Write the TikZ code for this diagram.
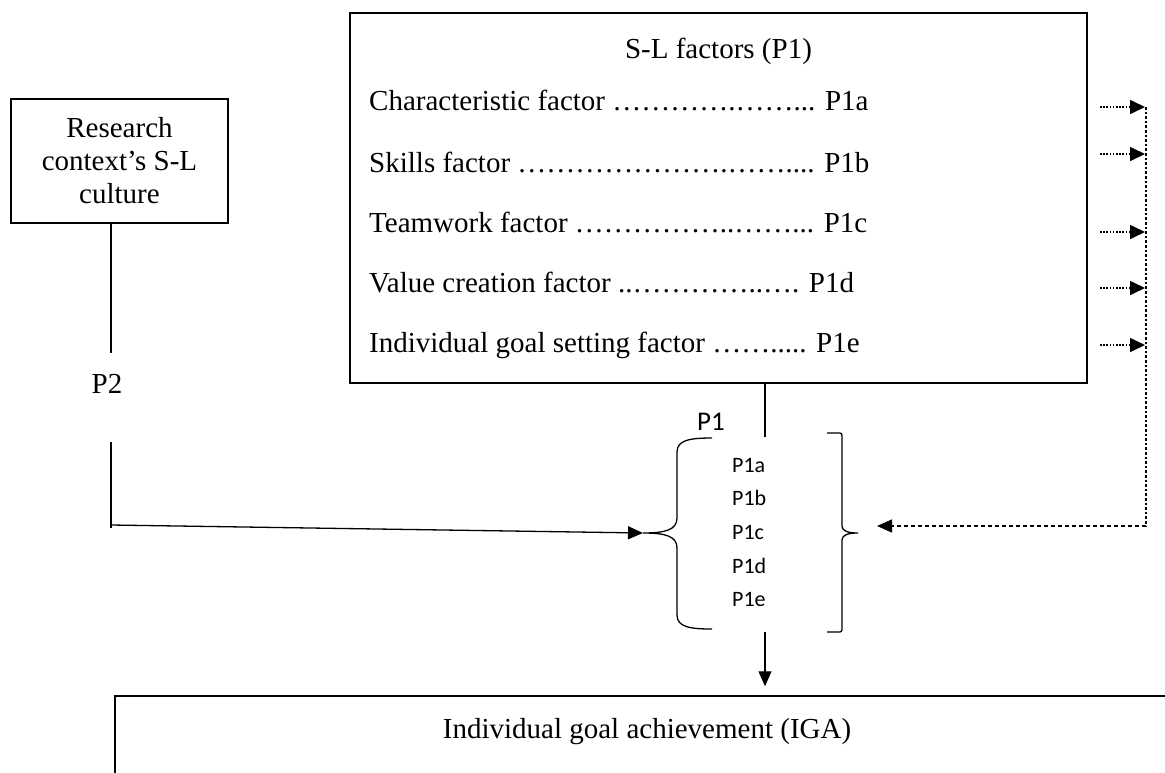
\documentclass[tikz,border=0pt]{standalone}
\usepackage{fontspec}
\setmainfont{Liberation Serif}
\newfontfamily\calfont{Carlito}
\usetikzlibrary{arrows.meta}
\newcommand{\tfont}{\fontsize{29}{33}\selectfont}
\newcommand{\E}{…}
\begin{document}
\begin{tikzpicture}[x=1pt,y=-1pt,
  box/.style={draw,line width=1.5pt,inner sep=0pt},
  conn/.style={line width=1.3pt},
  tri/.style={-{Triangle[length=15pt,width=13pt]}},
  ftxt/.style={font=\tfont,inner sep=0pt,anchor=base west},
  plab/.style={font=\calfont\fontsize{22}{26}\selectfont,inner sep=0pt,anchor=base west},
  dotstub/.style={line width=1.6pt,dash pattern=on 1.6pt off 1.6pt},
  dotvert/.style={line width=2.6pt,dash pattern=on 2.6pt off 2pt},
  dashh/.style={line width=1.4pt,dash pattern=on 4pt off 3pt}]
\useasboundingbox (0,0) rectangle (1165,772);
\clip (0,0) rectangle (1165,772);
\fill[white] (0,0) rectangle (1165,772);

% left box
\node[box,minimum width=217pt,minimum height=124pt,align=center,font=\tfont] (lbox) at (119.5,161)
  {Research\\context’s S-L\\culture};

% factor box
\node[box,minimum width=737pt,minimum height=370pt] (fbox) at (718.5,198) {};
\node[font=\tfont,inner sep=0pt,anchor=base] (ftitle) at (718.5,58) {S-L factors (P1)};
\node[ftxt] (f1) at (369,110) {Characteristic factor \E\E\E\E.\E\E... P1a};
\node[ftxt] (f2) at (369,172) {Skills factor \E\E\E\E\E\E\E.\E\E.... P1b};
\node[ftxt] (f3) at (369,232) {Teamwork factor \E\E\E\E\E..\E\E... P1c};
\node[ftxt] (f4) at (369,292) {Value creation factor ..\E\E\E\E..\E . P1d};
\node[ftxt] (f5) at (369,352) {Individual goal setting factor \E\E..... P1e};

% IGA box
\node[box,minimum width=1064pt,minimum height=110pt] (iga) at (647,751) {};
\node[font=\tfont,inner sep=0pt,anchor=base] (igatext) at (647,738) {Individual goal achievement (IGA)};

% braces
\coordinate (ltip) at (643,533);
\coordinate (rtip) at (858,533);
\draw[conn] (712,438) .. controls (690,438) and (677,440) .. (677,452) -- (677,518)
  .. controls (677,530) and (665,533) .. (ltip)
  .. controls (665,533) and (677,536) .. (677,548) -- (677,615)
  .. controls (677,627) and (690,629) .. (712,629);
\draw[conn] (827,433) -- (837,433) .. controls (842,433) .. (842,438) -- (842,526)
  .. controls (842,531) and (848,533) .. (rtip)
  .. controls (848,533) and (842,535) .. (842,540) -- (842,627)
  .. controls (842,632) .. (837,632) -- (827,632);

\node[font=\calfont\fontsize{27}{31}\selectfont,inner sep=0pt,anchor=base west] (p1lab) at (697,430) {P1};
\node[plab] (p1a) at (732,472) {P1a};
\node[plab] (p1b) at (732,505.7) {P1b};
\node[plab] (p1c) at (732,539.4) {P1c};
\node[plab] (p1d) at (732,573.1) {P1d};
\node[plab] (p1e) at (732,606.8) {P1e};

% connectors from factor box to braces to IGA
\coordinate (ctop) at (765,437);
\coordinate (cbot) at (765,632);
\draw[conn] (fbox.south -| ctop) -- (ctop);
\draw[conn,tri,shorten >=9pt] (cbot) -- (iga.north -| cbot);

% P2 path
\coordinate (p2a) at (111,353);
\coordinate (p2b) at (111,442);
\coordinate (p2c) at (111,528);
\coordinate (p2d) at (111,525);
\draw[conn] (lbox.south -| p2a) -- (p2a);
\node[font=\tfont,inner sep=0pt,anchor=base] (p2) at (107,393) {P2};
\draw[conn] (p2b) -- (p2c);
\draw[conn,tri] (p2d) -- (ltip);

% dotted arrows on the right
\coordinate (d1) at (1145,107);
\coordinate (d2) at (1145,154);
\coordinate (d3) at (1145,232);
\coordinate (d4) at (1145,288);
\coordinate (d5) at (1145,345);
\foreach \c in {d1,d2,d3,d4,d5}{
  \draw[dotstub,-{Triangle[length=15pt,width=14pt]}] ([xshift=-45pt]\c) -- (\c);
}
\coordinate (dcorner) at (1146,526);
\coordinate (rarrow) at (877,526);
\draw[dotvert] (1146,107) -- (dcorner);
\draw[dashh,-{Triangle[length=15pt,width=13pt]}] (dcorner) -- (rarrow);
\end{tikzpicture}
\end{document}
